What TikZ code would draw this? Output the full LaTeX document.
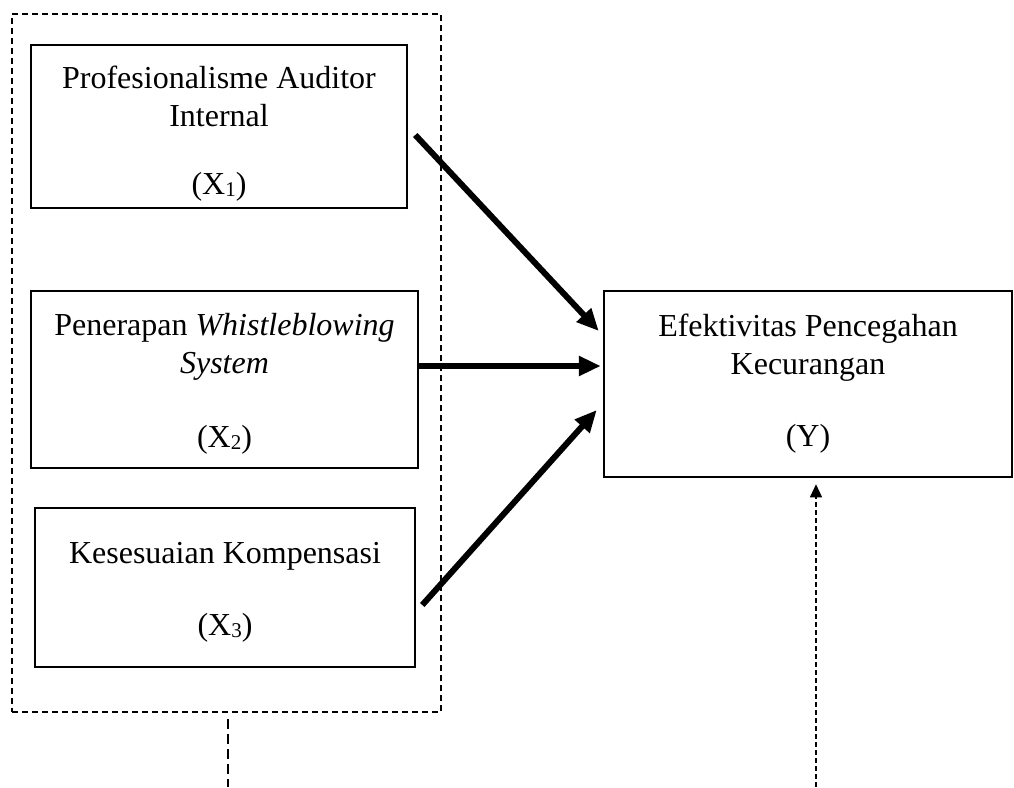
\documentclass[tikz,border=0pt]{standalone}
\usepackage{fontspec}
\setmainfont{Liberation Serif}
\usetikzlibrary{arrows.meta,calc}
\newcommand{\lowsub}[1]{\raisebox{-0.08em}{\fontsize{21}{21}\selectfont #1}}
\tikzset{
  varbox/.style={draw, line width=2.5pt, inner sep=0pt, align=center,
    font=\fontsize{32}{38}\selectfont},
  grpbox/.style={draw, line width=1.6pt, dash pattern=on 6pt off 4pt, inner sep=0pt},
  effect/.style={line width=6pt, -{Triangle[length=22pt,width=19pt]}, shorten >=0pt},
  guide/.style={line width=1.4pt, dash pattern=on 10pt off 5pt},
  feedback/.style={line width=1.1pt, dash pattern=on 5pt off 3pt, -{Triangle[length=13pt,width=12pt]}}
}
\begin{document}
\begin{tikzpicture}[x=1pt,y=-1pt]
\useasboundingbox (0,0) rectangle (1014,787);
\node[grpbox, minimum width=429pt, minimum height=698pt] (grp) at (226.5,363) {};
\node[varbox, minimum width=376pt, minimum height=163pt] (x1) at (219,126.5)
  {\rule{0pt}{36pt}Profesionalisme Auditor\\Internal\\[30pt](X\lowsub{1})};
\node[varbox, minimum width=387pt, minimum height=177pt] (x2) at (224.5,379.5)
  {\rule{0pt}{30pt}Penerapan \textit{Whistleblowing}\\\textit{System}\\[36pt](X\lowsub{2})};
\node[varbox, minimum width=380pt, minimum height=159pt] (x3) at (225,587.5)
  {\rule{0pt}{30pt}Kesesuaian Kompensasi\\[34pt](X\lowsub{3})};
\node[varbox, minimum width=408pt, minimum height=186pt] (y) at (808,384)
  {Efektivitas Pencegahan\\Kecurangan\\[34pt](Y)};
\coordinate (a1s) at ($(x1.east)+(7,8.5)$);
\coordinate (a1e) at ($(y.west)+(-4,-53)$);
\coordinate (a2s) at ($(x2.east)+(0,-13.5)$);
\coordinate (a2e) at ($(y.west)+(-2,-18)$);
\coordinate (a3s) at ($(x3.east)+(6,17.5)$);
\coordinate (a3e) at ($(y.west)+(-6,26)$);
\draw[effect] (a1s) -- (a1e);
\draw[effect] (a2s) -- (a2e);
\draw[effect] (a3s) -- (a3e);
\coordinate (gl) at (228,787);
\draw[guide] ($(grp.south)+(1.5,6)$) -- (gl);
\coordinate (fb) at (816,787);
\draw[feedback] (fb) -- ($(y.south)+(8,6)$);
\end{tikzpicture}
\end{document}
